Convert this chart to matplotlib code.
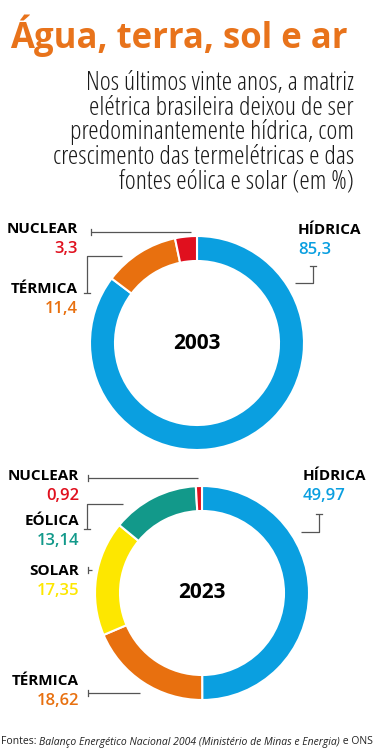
import matplotlib
matplotlib.use("Agg")
import matplotlib.pyplot as plt

# data
labels_2003 = ["HÍDRICA", "TÉRMICA", "NUCLEAR"]
values_2003 = [85.3, 11.4, 3.3]
text_2003 = ["85,3", "11,4", "3,3"]

labels_2023 = ["HÍDRICA", "TÉRMICA", "SOLAR", "EÓLICA", "NUCLEAR"]
values_2023 = [49.97, 18.62, 17.35, 13.14, 0.92]
text_2023 = ["49,97", "18,62", "17,35", "13,14", "0,92"]

subtitle_lines = [
    "Nos últimos vinte anos, a matriz",
    "elétrica brasileira deixou de ser",
    "predominantemente hídrica, com",
    "crescimento das termelétricas e das",
    "fontes eólica e solar (em %)",
]

COLORS = {
    "HÍDRICA": "#0a9fe0",
    "TÉRMICA": "#e8700f",
    "NUCLEAR": "#e0101e",
    "EÓLICA": "#12998a",
    "SOLAR": "#fde700",
}
LINE = "#555555"

W, H = 379, 753
plt.rcParams["font.family"] = ["Open Sans", "DejaVu Sans"]
plt.rcParams["font.stretch"] = "condensed"

fig = plt.figure(figsize=(W / 100, H / 100), dpi=100)
ax = fig.add_axes([0, 0, 1, 1])


def Y(y):
    # pixel row (from top) -> data y
    return H - y


# titles
ax.text(10, Y(48), "Água, terra, sol e ar", fontsize=25, fontweight="bold",
        color="#e8731b", ha="left", va="baseline")
for i, line in enumerate(subtitle_lines):
    ax.text(354, Y(90 + 24.6 * i), line, fontsize=18.8, color="#1a1a1a",
            ha="right", va="baseline")


def donut(cx, cy, labels, values, year):
    ax.pie(values, colors=[COLORS[l] for l in labels], startangle=90,
           counterclock=False, center=(cx, Y(cy)), radius=107,
           wedgeprops=dict(width=25, edgecolor="white", linewidth=1.5))
    ax.text(cx, Y(cy), year, fontsize=15, fontweight="bold", color="black",
            ha="center", va="center")


def label(x, y, name, value, ha="right"):
    ax.text(x, Y(y), name, fontsize=11, fontweight="bold", color="black",
            ha=ha, va="center")
    ax.text(x, Y(y + 20), value, fontsize=12, fontweight="semibold",
            color=COLORS[name], ha=ha, va="center")


def leader(xs, ys, tick="v"):
    ax.plot(xs, [Y(v) for v in ys], color=LINE, lw=0.9, solid_capstyle="butt")
    x0, y0 = xs[-1], ys[-1]
    if tick == "v":
        ax.plot([x0, x0], [Y(y0 - 3), Y(y0 + 3)], color=LINE, lw=0.9)
    else:
        ax.plot([x0 - 3, x0 + 3], [Y(y0), Y(y0)], color=LINE, lw=0.9)


# 2003
donut(197, 343, labels_2003, values_2003, "2003")
label(78, 229, "NUCLEAR", text_2003[2])
label(78, 289, "TÉRMICA", text_2003[1])
label(298, 230, "HÍDRICA", text_2003[0], ha="left")
leader([191, 91], [232, 232], "v")
leader([122, 87, 87], [256, 256, 293], "h")
leader([295, 313, 313], [283, 283, 266], "h")

# 2023
donut(202, 593, labels_2023, values_2023, "2023")
label(79, 476, "NUCLEAR", text_2023[4])
label(79, 521, "EÓLICA", text_2023[3])
label(79, 571, "SOLAR", text_2023[2])
label(79, 681, "TÉRMICA", text_2023[1])
label(303, 476, "HÍDRICA", text_2023[0], ha="left")
leader([198, 88], [478, 478], "v")
leader([123, 87, 87], [504, 504, 529], "h")
leader([92, 88], [570, 570], "v")
leader([140, 88], [693, 693], "v")
leader([301, 319, 319], [532, 532, 514], "h")

# footer (regular width)
foot = dict(fontsize=7.5, color="#222222", fontstretch="normal",
            ha="left", va="center")
t1 = ax.text(1, Y(742), "Fontes: ", **foot)
t2 = ax.annotate("Balanço Energético Nacional 2004 (Ministério de Minas e Energia)",
                 xy=(1, 0.5), xycoords=t1, fontstyle="italic", **foot)
ax.annotate(" e ONS", xy=(1, 0.5), xycoords=t2, **foot)

# pie() resets the limits, so set them last
ax.set_xlim(0, W)
ax.set_ylim(0, H)
ax.set_aspect("equal")
ax.axis("off")

fig.savefig("out.png", dpi=100, facecolor="white")
